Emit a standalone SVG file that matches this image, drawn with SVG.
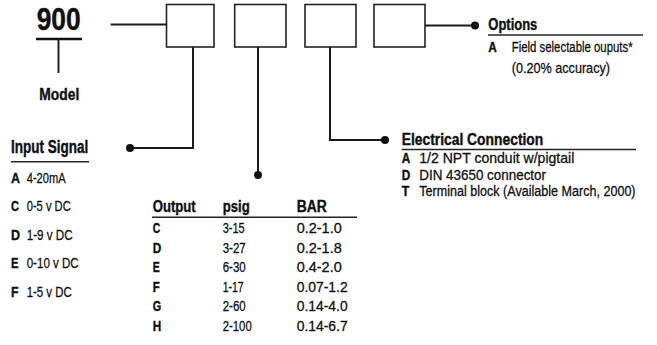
<svg xmlns="http://www.w3.org/2000/svg" width="657" height="345" viewBox="0 0 657 345">
<style>
text{font-family:"Liberation Sans Narrow","Liberation Sans",Arial,sans-serif;fill:#111;stroke:#111;stroke-width:0.3}
.b{font-weight:bold;stroke-width:0.4}
.h{font-weight:bold;font-size:16.5px;stroke-width:0.4}
.r{font-size:15.5px}
.box{fill:#fff;stroke:#222;stroke-width:1.6}
.ln{fill:none;stroke:#1a1a1a;stroke-width:2}
.dot{fill:#111}
</style>
<rect width="657" height="345" fill="#fff"/>
<g id="model">
<text x="36.7" y="30" class="b" font-size="31" textLength="44" lengthAdjust="spacingAndGlyphs">900</text>
<line x1="36" y1="39" x2="82" y2="39" stroke="#111" stroke-width="2.5"/>
<line x1="58.5" y1="39" x2="58.5" y2="73" stroke="#222" stroke-width="2"/>
<text x="39.3" y="100" class="b" font-size="17" textLength="40" lengthAdjust="spacingAndGlyphs">Model</text>
</g>
<g id="box1"><rect class="box" x="166.5" y="4.5" width="47.5" height="42.5"/></g>
<g id="box2"><rect class="box" x="234.7" y="4.5" width="51.3" height="42.5"/></g>
<g id="box3"><rect class="box" x="305" y="4.5" width="51" height="42.5"/></g>
<g id="box4"><rect class="box" x="374" y="4.5" width="51" height="42.5"/></g>
<g id="connectors">
<line class="ln" x1="110.7" y1="24.5" x2="166.5" y2="24.5"/>
<polyline class="ln" points="193,47 193,148 130,148"/>
<circle class="dot" cx="130" cy="148" r="4"/>
<line class="ln" x1="258" y1="47" x2="258" y2="175"/>
<circle class="dot" cx="258" cy="175" r="4"/>
<polyline class="ln" points="330,47 330,140 385,140"/>
<circle class="dot" cx="385" cy="140" r="4"/>
<line class="ln" x1="425" y1="25.5" x2="475" y2="25.5"/>
<circle class="dot" cx="475" cy="25.5" r="4"/>
</g>
<g id="input-signal">
<text x="11" y="153.3" class="b" font-size="17.5" textLength="77.3" lengthAdjust="spacingAndGlyphs">Input Signal</text>
<line x1="11" y1="161.7" x2="89" y2="161.7" stroke="#222" stroke-width="1.5"/>
<text x="11" y="182.5" class="b" font-size="15.5" textLength="9" lengthAdjust="spacingAndGlyphs">A</text>
<text x="26.7" y="182.5" font-size="15.5" textLength="39" lengthAdjust="spacingAndGlyphs">4-20mA</text>
<text x="11" y="211" class="b" font-size="15.5" textLength="8" lengthAdjust="spacingAndGlyphs">C</text>
<text x="26.7" y="211" font-size="15.5" textLength="44" lengthAdjust="spacingAndGlyphs">0-5 v DC</text>
<text x="11" y="239.5" class="b" font-size="15.5" textLength="9" lengthAdjust="spacingAndGlyphs">D</text>
<text x="26.7" y="239.5" font-size="15.5" textLength="46" lengthAdjust="spacingAndGlyphs">1-9 v DC</text>
<text x="11" y="268" class="b" font-size="15.5" textLength="7.5" lengthAdjust="spacingAndGlyphs">E</text>
<text x="26.7" y="268" font-size="15.5" textLength="52" lengthAdjust="spacingAndGlyphs">0-10 v DC</text>
<text x="11" y="296.5" class="b" font-size="15.5" textLength="7.5" lengthAdjust="spacingAndGlyphs">F</text>
<text x="26.7" y="296.5" font-size="15.5" textLength="45" lengthAdjust="spacingAndGlyphs">1-5 v DC</text>
</g>
<g id="output">
<text x="152.7" y="211.7" class="b" font-size="16" textLength="43" lengthAdjust="spacingAndGlyphs">Output</text>
<text x="222.7" y="211.7" class="b" font-size="16" textLength="27" lengthAdjust="spacingAndGlyphs">psig</text>
<text x="296.7" y="211.7" class="b" font-size="16" textLength="30" lengthAdjust="spacingAndGlyphs">BAR</text>
<line x1="152" y1="217.3" x2="357" y2="217.3" stroke="#222" stroke-width="1.5"/>
<text x="152.7" y="233" class="b r" textLength="7.5" lengthAdjust="spacingAndGlyphs">C</text>
<text x="222.7" y="233" class="r" textLength="22" lengthAdjust="spacingAndGlyphs">3-15</text>
<text x="296.7" y="233" class="r" textLength="45" lengthAdjust="spacingAndGlyphs">0.2-1.0</text>
<text x="152.7" y="252.6" class="b r" textLength="8.5" lengthAdjust="spacingAndGlyphs">D</text>
<text x="222.7" y="252.6" class="r" textLength="23" lengthAdjust="spacingAndGlyphs">3-27</text>
<text x="296.7" y="252.6" class="r" textLength="45" lengthAdjust="spacingAndGlyphs">0.2-1.8</text>
<text x="152.7" y="272.2" class="b r" textLength="7" lengthAdjust="spacingAndGlyphs">E</text>
<text x="222.7" y="272.2" class="r" textLength="23" lengthAdjust="spacingAndGlyphs">6-30</text>
<text x="296.7" y="272.2" class="r" textLength="45" lengthAdjust="spacingAndGlyphs">0.4-2.0</text>
<text x="152.7" y="291.8" class="b r" textLength="7" lengthAdjust="spacingAndGlyphs">F</text>
<text x="222.7" y="291.8" class="r" textLength="21" lengthAdjust="spacingAndGlyphs">1-17</text>
<text x="296.7" y="291.8" class="r" textLength="51" lengthAdjust="spacingAndGlyphs">0.07-1.2</text>
<text x="152.7" y="311.4" class="b r" textLength="8.5" lengthAdjust="spacingAndGlyphs">G</text>
<text x="222.7" y="311.4" class="r" textLength="23" lengthAdjust="spacingAndGlyphs">2-60</text>
<text x="296.7" y="311.4" class="r" textLength="51" lengthAdjust="spacingAndGlyphs">0.14-4.0</text>
<text x="152.7" y="331" class="b r" textLength="8.5" lengthAdjust="spacingAndGlyphs">H</text>
<text x="222.7" y="331" class="r" textLength="29" lengthAdjust="spacingAndGlyphs">2-100</text>
<text x="296.7" y="331" class="r" textLength="51" lengthAdjust="spacingAndGlyphs">0.14-6.7</text>
</g>
<g id="electrical-connection">
<text x="401.7" y="145" class="h" textLength="141.6" lengthAdjust="spacingAndGlyphs">Electrical Connection</text>
<line x1="401.7" y1="149.5" x2="636" y2="149.5" stroke="#222" stroke-width="1.5"/>
<text x="401.7" y="162.8" class="b" font-size="14.5" textLength="8.5" lengthAdjust="spacingAndGlyphs">A</text>
<text x="419.3" y="162.8" font-size="14.5" textLength="155" lengthAdjust="spacingAndGlyphs">1/2 NPT conduit w/pigtail</text>
<text x="401.7" y="179.5" class="b" font-size="14.5" textLength="8.5" lengthAdjust="spacingAndGlyphs">D</text>
<text x="419.3" y="179.5" font-size="14.5" textLength="126.7" lengthAdjust="spacingAndGlyphs">DIN 43650 connector</text>
<text x="401.7" y="196.3" class="b" font-size="14.5" textLength="7.5" lengthAdjust="spacingAndGlyphs">T</text>
<text transform="translate(419.3,196.3) scale(0.867,1)" x="0" y="0" font-size="14.5">Terminal block (Available March, 2000)</text>
</g>
<g id="options">
<text x="488.3" y="30" class="h" textLength="49" lengthAdjust="spacingAndGlyphs">Options</text>
<line x1="488" y1="35" x2="643" y2="35" stroke="#222" stroke-width="1.5"/>
<text x="488.3" y="52.3" class="b" font-size="15" textLength="8.5" lengthAdjust="spacingAndGlyphs">A</text>
<text transform="translate(511.7,52.3) scale(0.76,1)" x="0" y="0" font-size="15">Field selectable ouputs*</text>
<text x="511.7" y="72.5" font-size="15" textLength="98.3" lengthAdjust="spacingAndGlyphs">(0.20% accuracy)</text>
</g>
</svg>
